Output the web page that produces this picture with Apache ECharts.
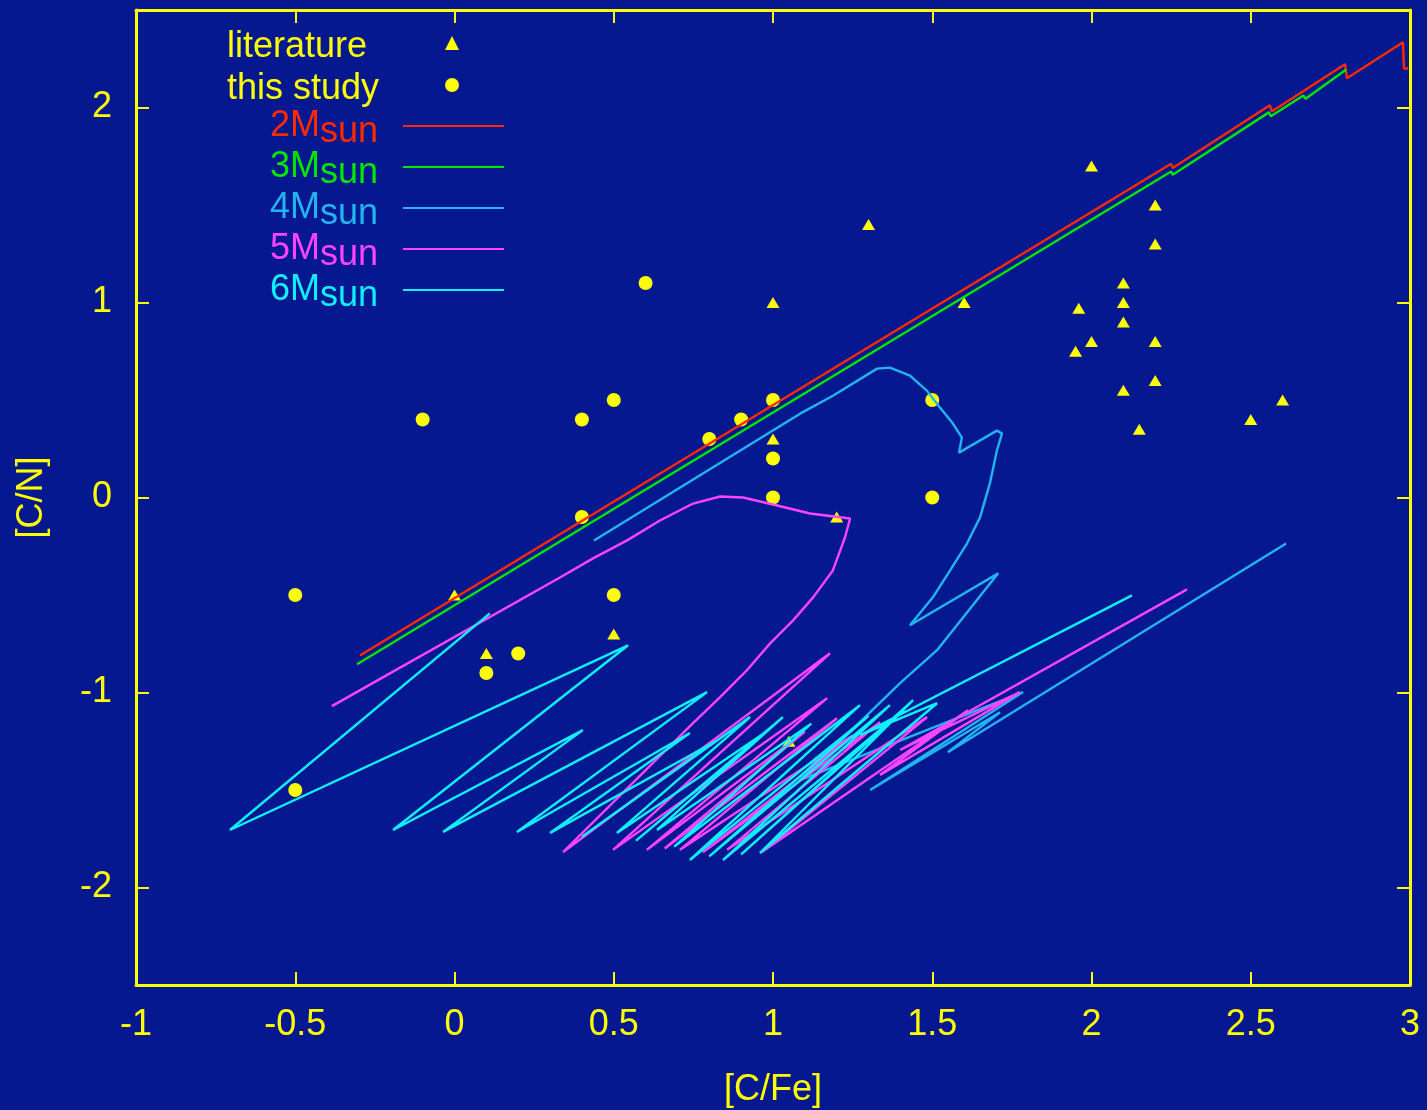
<!DOCTYPE html>
<html>
<head>
<meta charset="utf-8">
<title>[C/N] vs [C/Fe]</title>
<script src="https://cdn.jsdelivr.net/npm/echarts@6.0.0/dist/echarts.min.js"></script>
<style>
    html, body {margin: 0; padding: 0; background: #061890;}
    #chart01 {width: 1427px; height: 1110px;}
</style>
</head>
<body>
<div id="chart01"></div>
<script>
// observations
var literature = [
    [0, -0.5], [0.1, -0.8], [0.5, -0.7], [1, 1.0], [1, 0.3], [1.2, -0.1], [1.3, 1.4],
    [1.6, 1.0], [2.0, 1.7], [1.96, 0.97], [1.95, 0.75], [2.0, 0.8], [2.1, 1.1], [2.1, 1.0],
    [2.1, 0.9], [2.1, 0.55], [2.15, 0.35], [2.2, 1.5], [2.2, 1.3], [2.2, 0.8], [2.2, 0.6],
    [2.5, 0.4], [2.6, 0.5], [1.05, -1.25]
];
var thisStudy = [
    [-0.5, -0.5], [-0.1, 0.4], [0.1, -0.9], [0.2, -0.8], [0.4, 0.4], [0.4, -0.1], [0.5, 0.5],
    [0.5, -0.5], [0.6, 1.1], [0.8, 0.3], [0.9, 0.4], [1, 0.5], [1, 0.2], [1, 0], [1.5, 0.5],
    [1.5, 0], [-0.5, -1.5]
];

// model tracks
var track2 = [
    [-0.297, -0.81], [2.25, 1.712], [2.255, 1.69], [2.56, 2.012], [2.566, 1.98],
    [2.796, 2.222], [2.802, 2.15], [2.978, 2.335], [2.981, 2.20], [2.994, 2.20]
];
var track3 = [
    [-0.306, -0.855], [2.25, 1.672], [2.255, 1.655], [2.557, 1.975], [2.563, 1.955],
    [2.665, 2.062], [2.672, 2.045], [2.80, 2.195]
];
var track4 = [
    [0.438, -0.220], [1.085, 0.430], [1.188, 0.522], [1.327, 0.661], [1.367, 0.666],
    [1.430, 0.625], [1.483, 0.548], [1.524, 0.461], [1.565, 0.379], [1.593, 0.307],
    [1.584, 0.230], [1.703, 0.343], [1.719, 0.328], [1.703, 0.241], [1.681, 0.072],
    [1.650, -0.102], [1.609, -0.236], [1.556, -0.374], [1.502, -0.512], [1.430, -0.655],
    [1.707, -0.389], [1.515, -0.783], [1.399, -0.952], [1.085, -1.449], [1.785, -0.998],
    [1.305, -1.500], [1.713, -1.101], [1.549, -1.306], [2.611, -0.236]
];
var track5 = [
    [-0.385, -1.070], [0.331, -0.410], [0.435, -0.312], [0.542, -0.220], [0.645, -0.118],
    [0.749, -0.031], [0.834, 0.005], [0.906, 0.000], [1.013, -0.041], [1.116, -0.082],
    [1.242, -0.108], [1.226, -0.205], [1.188, -0.374], [1.126, -0.512], [1.063, -0.630],
    [0.991, -0.748], [0.918, -0.886], [0.834, -1.024], [0.749, -1.157], [0.341, -1.818],
    [1.179, -0.799], [0.498, -1.807], [1.170, -1.029], [0.604, -1.807], [1.100, -1.200],
    [0.660, -1.800], [1.201, -1.132], [0.708, -1.807], [1.250, -1.220], [0.780, -1.820],
    [1.336, -1.152], [0.856, -1.807], [1.484, -1.126], [0.965, -1.818], [1.612, -1.091],
    [1.336, -1.423], [1.775, -0.998], [1.399, -1.295], [2.300, -0.471]
];
var track6 = [
    [0.111, -0.594], [-0.705, -1.705], [0.545, -0.758], [-0.193, -1.705], [0.403, -1.193],
    [-0.036, -1.715], [0.793, -0.998], [0.196, -1.715], [0.739, -1.208], [0.300, -1.720],
    [0.820, -1.250], [0.400, -1.740], [0.928, -1.126], [0.510, -1.720], [0.980, -1.200],
    [0.570, -1.760], [1.031, -1.126], [0.636, -1.705], [1.120, -1.160], [0.690, -1.790],
    [1.273, -1.065], [0.739, -1.859], [1.300, -1.120], [0.800, -1.840], [1.367, -1.065],
    [0.843, -1.859], [1.410, -1.090], [0.900, -1.830], [1.440, -1.039], [0.959, -1.823],
    [1.515, -1.055], [1.273, -1.219], [2.127, -0.502]
];

var xTickStep = 0.5;
var yTickValues = [-2, -1, 0, 1, 2];
var trackNames = ['2Msun', '3Msun', '4Msun', '5Msun', '6Msun'];
var trackColors = ['#ff2a00', '#00e600', '#22b4ee', '#ff44ff', '#10eeff'];

(function(){
    var yellow = '#ffff00';
    var font = '"Liberation Sans", Arial, Helvetica, sans-serif';
    var tracks = [track2, track3, track4, track5, track6];

    function axisLine(){
        return {onZero: false, lineStyle: {color: yellow, width: 3}};
    }
    function tick(values){
        var t = {inside: true, length: 13, lineStyle: {color: yellow, width: 2}};
        if(values) t.customValues = values;
        return t;
    }

    // legend text: "2M" with a lowered "sun"
    var rich = {};
    for(var i=0; i<trackNames.length; i++){
        var k = trackNames[i].charAt(0);
        rich['n'+k] = {color: trackColors[i], fontSize: 36, fontFamily: font, height: 36, lineHeight: 42,
            verticalAlign: 'top', padding: [3, 0, 0, 0]};
        rich['s'+k] = {color: trackColors[i], fontSize: 36, fontFamily: font, height: 24, lineHeight: 24,
            verticalAlign: 'middle', padding: [12, 20, 0, 0]};
    }

    var series = [{
        name: 'literature',
        type: 'scatter',
        symbol: 'triangle',
        symbolSize: [13, 11],
        itemStyle: {color: yellow, opacity: 1},
        data: literature
    }, {
        name: 'this study',
        type: 'scatter',
        symbol: 'circle',
        symbolSize: 14,
        itemStyle: {color: yellow, opacity: 1},
        data: thisStudy
    }];
    for(var j=0; j<tracks.length; j++){
        series.push({
            name: trackNames[j],
            type: 'line',
            symbol: 'none',
            showSymbol: false,
            itemStyle: {color: trackColors[j]},
            lineStyle: {color: trackColors[j], width: 2.4},
            data: tracks[j]
        });
    }

    var myChart = echarts.init(document.getElementById('chart01'));
    var option = {
        animation: false,
        backgroundColor: '#061890',
        textStyle: {fontFamily: font},
        grid: {left: 136, right: 17, top: 10, bottom: 125, outerBoundsMode: 'none'},
        legend: [{
            data: ['literature', 'this study'],
            orient: 'vertical',
            align: 'right',
            right: 968,
            top: 21,
            padding: 0,
            itemWidth: 14,
            itemHeight: 14,
            itemGap: -2,
            selectedMode: false,
            formatter: '{a|{name}}',
            textStyle: {
                color: yellow,
                fontSize: 36,
                rich: {a: {width: 213, align: 'left', color: yellow, fontSize: 36, lineHeight: 36,
                    fontFamily: font, padding: [8, 0, 0, 0]}}
            }
        }, {
            data: trackNames,
            orient: 'vertical',
            align: 'right',
            icon: 'rect',
            right: 923,
            top: 105,
            padding: 0,
            itemWidth: 101,
            itemHeight: 2,
            itemGap: -4,
            selectedMode: false,
            formatter: function(name){
                var k = name.charAt(0);
                return '{n'+k+'|'+k+'M}{s'+k+'|sun}';
            },
            textStyle: {fontSize: 36, rich: rich}
        }],
        xAxis: [{
            type: 'value',
            position: 'bottom',
            min: -1,
            max: 3,
            interval: xTickStep,
            name: '[C/Fe]',
            nameLocation: 'middle',
            nameGap: 87,
            nameTextStyle: {color: yellow, fontSize: 36, fontFamily: font},
            axisLine: axisLine(),
            axisTick: tick(),
            axisLabel: {color: yellow, fontSize: 36, fontFamily: font, margin: 22},
            splitLine: {show: false}
        }, {
            type: 'value',
            position: 'top',
            min: -1,
            max: 3,
            interval: xTickStep,
            axisLine: axisLine(),
            axisTick: tick(),
            axisLabel: {show: false},
            splitLine: {show: false}
        }],
        yAxis: [{
            type: 'value',
            position: 'left',
            min: -2.5,
            max: 2.5,
            interval: 0.5,
            name: '[C/N]',
            nameLocation: 'middle',
            nameRotate: 90,
            nameGap: 86,
            nameTextStyle: {color: yellow, fontSize: 36, fontFamily: font},
            axisLine: axisLine(),
            axisTick: tick(yTickValues),
            axisLabel: {color: yellow, fontSize: 36, fontFamily: font, margin: 24, customValues: yTickValues},
            splitLine: {show: false}
        }, {
            type: 'value',
            position: 'right',
            min: -2.5,
            max: 2.5,
            interval: 0.5,
            axisLine: axisLine(),
            axisTick: tick(yTickValues),
            axisLabel: {show: false},
            splitLine: {show: false}
        }],
        series: series
    };
    myChart.setOption(option);
})();
</script>
</body>
</html>
